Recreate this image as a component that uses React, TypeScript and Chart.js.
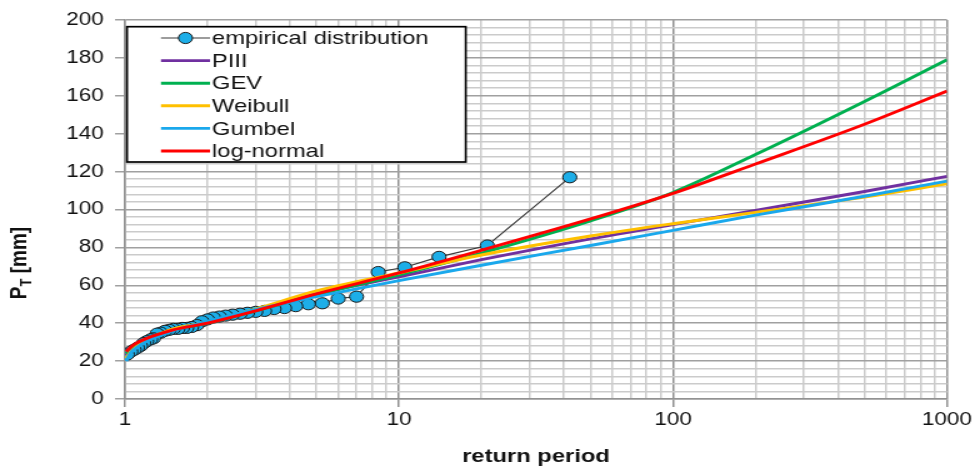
import React, { useEffect, useRef } from 'react';
import { Chart, registerables } from 'chart.js';

Chart.register(...registerables);

// ---------- data ----------
const EMP_T = [42, 21, 14, 10.5, 8.4, 7, 6, 5.25, 4.67, 4.2, 3.82, 3.5, 3.23, 3, 2.8, 2.63, 2.47, 2.33, 2.21, 2.1, 2, 1.91, 1.83, 1.75, 1.68, 1.62, 1.56, 1.5, 1.45, 1.4, 1.35, 1.31, 1.27, 1.24, 1.2, 1.17, 1.14, 1.11, 1.08, 1.05, 1.02];
const EMP_P = [117, 81, 75, 69.5, 67, 54, 53, 50.5, 50, 49, 48, 47.5, 46.5, 46, 45.5, 45, 44.5, 44, 43.5, 43, 42, 41, 39, 38, 37.5, 37.5, 37, 37, 36.5, 36, 35, 34.5, 32, 31.5, 30.5, 29.5, 28, 27, 26, 25, 23.5];

const FIT_T = [1.01, 1.05, 1.1, 1.2, 1.35, 1.5, 2, 3, 5, 10, 20, 50, 100, 200, 500, 1000];
const PIII = [23, 26, 28, 31, 34, 36.5, 40, 47, 55.5, 64.5, 73.5, 84.5, 92, 99.5, 109.5, 117.5];
const GEV = [24, 26.5, 28.5, 31.5, 34.5, 36.5, 40, 46.5, 55, 65.5, 77, 94, 109, 129, 157, 179];
const WEIBULL = [21.5, 25, 27.5, 31, 34.5, 37, 40.5, 47.5, 57, 66.5, 76, 86, 92.5, 98.5, 106.5, 113.5];
const GUMBEL = [20, 24.5, 27, 30.5, 33.5, 36, 41, 47.3, 54, 62.5, 70.6, 81, 89, 97, 107, 115];
const LOGNORMAL = [25, 27.5, 29.5, 32, 34.5, 36.5, 40, 46.5, 55.5, 66.5, 78.5, 95, 108.5, 124, 145, 162.5];

const SERIES_NAMES = ['empirical distribution', 'PIII', 'GEV', 'Weibull', 'Gumbel', 'log-normal'];
const X_TICK_LABELS = [1, 10, 100, 1000];
const Y_TICK_LABELS = [0, 20, 40, 60, 80, 100, 120, 140, 160, 180, 200];
const X_TITLE = 'return period';

// ---------- styles ----------
const FONT = '"Liberation Sans", Arial, Helvetica, sans-serif';
const MAJOR = '#a0a0a0';
const VMAJOR = '#929292';
const MINOR = '#cbcbcb';
const TEXT = '#111111';

const near = (list: number[], v: number) => list.some((t) => Math.abs(t - v) < 1e-6);

const pts = (xs: number[], ys: number[]) => xs.map((x, i) => ({ x, y: ys[i] }));

const overlayPlugin = {
  id: 'overlay',
  afterDraw(chart: any) {
    const ctx = chart.ctx as CanvasRenderingContext2D;
    const area = chart.chartArea;
    ctx.save();

    // legend box
    const bx = area.left + 1.6;
    const by = area.top + 6.7;
    const bw = 271;
    const bh = 135.3;
    ctx.fillStyle = '#ffffff';
    ctx.fillRect(bx, by, bw, bh);
    ctx.strokeStyle = '#000000';
    ctx.lineWidth = 1.7;
    ctx.strokeRect(bx, by, bw, bh);

    const ds = chart.data.datasets;
    ctx.font = `19px ${FONT}`;
    ctx.textBaseline = 'middle';
    ctx.textAlign = 'left';
    for (let i = 0; i < ds.length; i++) {
      const y = by + 11.3 + i * 22.6;
      const x0 = bx + 27.2;
      const x1 = bx + 66.4;
      const d = ds[i];
      ctx.beginPath();
      ctx.moveTo(x0, y);
      ctx.lineTo(x1, y);
      ctx.strokeStyle = d.borderColor;
      ctx.lineWidth = d.borderWidth;
      ctx.stroke();
      if (d.pointRadius > 0) {
        ctx.beginPath();
        ctx.arc((x0 + x1) / 2, y, d.pointRadius, 0, Math.PI * 2);
        ctx.fillStyle = d.pointBackgroundColor;
        ctx.fill();
        ctx.lineWidth = d.pointBorderWidth;
        ctx.strokeStyle = d.pointBorderColor;
        ctx.stroke();
      }
      ctx.fillStyle = TEXT;
      ctx.fillText(d.label, bx + 68, y + 1);
    }

    // x axis title
    ctx.font = `bold 19px ${FONT}`;
    ctx.textAlign = 'center';
    ctx.textBaseline = 'middle';
    ctx.fillStyle = TEXT;
    ctx.fillText(X_TITLE, (area.left + area.right) / 2, 457);

    // y axis title with subscript
    ctx.translate(14, 263);
    ctx.rotate(-Math.PI / 2);
    ctx.textAlign = 'left';
    ctx.textBaseline = 'alphabetic';
    const big = `bold 19px ${FONT}`;
    const small = `bold 13px ${FONT}`;
    ctx.font = big;
    const wP = ctx.measureText('P').width;
    const wRest = ctx.measureText(' [mm]').width;
    ctx.font = small;
    const wT = ctx.measureText('T').width;
    let x = -(wP + wT + wRest) / 2;
    ctx.font = big;
    ctx.fillText('P', x, 7);
    x += wP;
    ctx.font = small;
    ctx.fillText('T', x, 11);
    x += wT;
    ctx.font = big;
    ctx.fillText(' [mm]', x, 7);

    ctx.restore();
  },
};

export default function App() {
  const ref = useRef<HTMLCanvasElement | null>(null);

  useEffect(() => {
    if (!ref.current) return;
    const fitStyle = (color: string) => ({
      borderColor: color,
      backgroundColor: color,
      borderWidth: 2.9,
      pointRadius: 0,
      pointHoverRadius: 0,
      cubicInterpolationMode: 'monotone' as const,
      fill: false,
    });
    const chart = new Chart(ref.current, {
      type: 'line',
      data: {
        datasets: [
          {
            label: SERIES_NAMES[0],
            data: pts(EMP_T, EMP_P),
            borderColor: '#3a3a3a',
            backgroundColor: '#1DAEE8',
            borderWidth: 1.1,
            pointRadius: 5.6,
            pointBackgroundColor: '#1DAEE8',
            pointBorderColor: '#1a1a1a',
            pointBorderWidth: 1,
            order: 6,
          } as any,
          { label: SERIES_NAMES[1], data: pts(FIT_T, PIII), ...fitStyle('#7030A0'), order: 5 },
          { label: SERIES_NAMES[2], data: pts(FIT_T, GEV), ...fitStyle('#00B050'), order: 4 },
          { label: SERIES_NAMES[3], data: pts(FIT_T, WEIBULL), ...fitStyle('#FFC000'), order: 3 },
          { label: SERIES_NAMES[4], data: pts(FIT_T, GUMBEL), ...fitStyle('#1AA8EC'), order: 2 },
          { label: SERIES_NAMES[5], data: pts(FIT_T, LOGNORMAL), ...fitStyle('#FF0000'), order: 1 },
        ],
      },
      options: {
        responsive: false,
        animation: false,
        devicePixelRatio: 1,
        events: [],
        layout: { padding: { left: 0, right: 26.4, top: 20, bottom: 0 } },
        plugins: { legend: { display: false }, tooltip: { enabled: false } },
        scales: {
          x: {
            type: 'logarithmic',
            min: 1,
            max: 1000,
            afterFit: (s: any) => {
              s.height = 71;
            },
            afterBuildTicks: (s: any) => {
              s.ticks = s.ticks.filter((t: any) => {
                const e = Math.pow(10, Math.floor(Math.log10(t.value) + 1e-9));
                const m = t.value / e;
                return Math.abs(m - Math.round(m)) < 1e-6;
              });
            },
            grid: {
              color: (c: any) => (c.tick && near(X_TICK_LABELS, c.tick.value) ? VMAJOR : MINOR),
              lineWidth: 1.5,
              tickLength: 8,
              tickWidth: 1.5,
              tickColor: (c: any) => (c.tick && near(X_TICK_LABELS, c.tick.value) ? VMAJOR : 'rgba(0,0,0,0)'),
            },
            border: { color: VMAJOR, width: 1.5 },
            ticks: {
              autoSkip: false,
              maxRotation: 0,
              minRotation: 0,
              padding: 2,
              color: TEXT,
              font: { family: FONT, size: 18 },
              callback: (v: any) => (near(X_TICK_LABELS, Number(v)) ? String(Math.round(Number(v))) : ''),
            },
          },
          y: {
            type: 'linear',
            min: 0,
            max: 200,
            afterFit: (s: any) => {
              s.width = 100;
            },
            grid: {
              color: (c: any) => (c.tick && near(Y_TICK_LABELS, c.tick.value) ? MAJOR : MINOR),
              lineWidth: 1.5,
              tickLength: 8,
              tickWidth: 1.5,
              tickColor: (c: any) => (c.tick && near(Y_TICK_LABELS, c.tick.value) ? MAJOR : 'rgba(0,0,0,0)'),
            },
            border: { color: VMAJOR, width: 1.5 },
            ticks: {
              stepSize: 4,
              autoSkip: false,
              padding: 9,
              color: TEXT,
              font: { family: FONT, size: 18 },
              callback: (v: any) => (near(Y_TICK_LABELS, Number(v)) ? String(Number(v)) : ''),
            },
          },
        },
      } as any,
      plugins: [overlayPlugin],
    });
    return () => chart.destroy();
  }, []);

  return (
    <div style={{ position: 'fixed', left: 0, top: 0, width: 980, height: 470, background: '#ffffff' }}>
      <canvas ref={ref} width={784} height={470} style={{ width: '980px', height: '470px', display: 'block' }} />
    </div>
  );
}
